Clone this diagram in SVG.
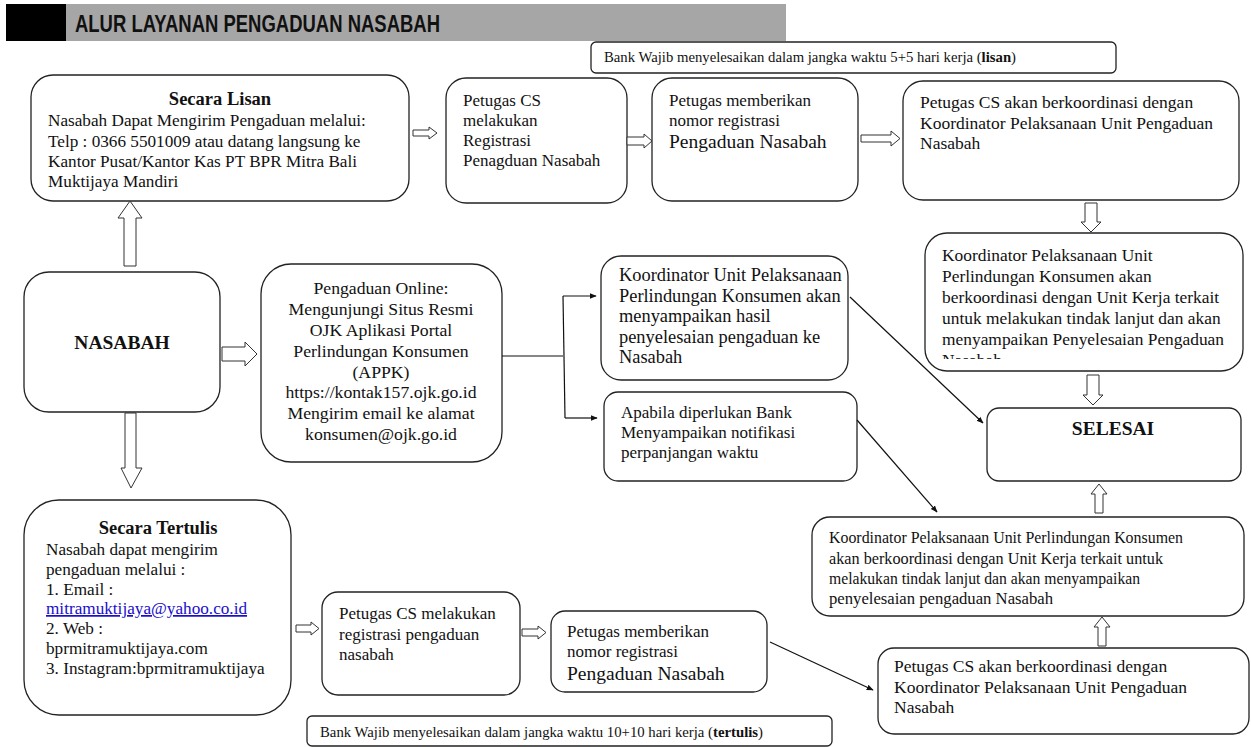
<svg xmlns="http://www.w3.org/2000/svg" width="1251" height="747" viewBox="0 0 1251 747">
<style>
.box{fill:#fff;stroke:#222;stroke-width:1.3}
.t{font-family:"Liberation Serif","Times New Roman",serif;font-size:17px;fill:#111}
.s{font-size:14.5px}
.b{font-weight:bold}
.big{font-size:19.5px}
.ttl{font-size:18.5px}
.c{text-anchor:middle}
.blk{fill:#fff;stroke:#333;stroke-width:1}
.ln{fill:none;stroke:#111;stroke-width:1.2}
</style>
<defs>
<marker id="ah" viewBox="0 0 10 10" refX="9" refY="5" markerWidth="7" markerHeight="7" orient="auto" markerUnits="userSpaceOnUse">
<path d="M0,1 L10,5 L0,9 z" fill="#111"/>
</marker>
<clipPath id="clipK"><rect x="925" y="233" width="320" height="126"/></clipPath>
</defs>
<rect width="1251" height="747" fill="#fff"/>
<g id="header">
<rect x="6" y="4" width="60" height="37" fill="#000"/>
<rect x="66" y="4" width="720" height="37" fill="#a6a6a6"/>
<text x="75" y="32" font-family="'Liberation Sans',Arial,sans-serif" font-weight="bold" font-size="23" textLength="365" lengthAdjust="spacingAndGlyphs" fill="#111">ALUR LAYANAN PENGADUAN NASABAH</text>
</g>
<g id="note-lisan">
<rect class="box" x="591" y="42" width="525" height="31" rx="5"/>
<text class="t s" x="604" y="62" textLength="412" lengthAdjust="spacingAndGlyphs">Bank Wajib menyelesaikan dalam jangka waktu 5+5 hari kerja (<tspan class="b">lisan</tspan>)</text>
</g>
<g id="lisan" style="font-size:17.2px">
<rect class="box" x="31" y="75" width="378" height="126" rx="22"/>
<text class="t b c ttl" x="220" y="105">Secara Lisan</text>
<text class="t" x="48" y="126" style="font-size:17.2px">Nasabah Dapat Mengirim Pengaduan melalui:</text>
<text class="t" x="48" y="147" style="font-size:17.2px">Telp : 0366 5501009 atau datang langsung ke</text>
<text class="t" x="48" y="167" style="font-size:17.2px">Kantor Pusat/Kantor Kas PT BPR Mitra Bali</text>
<text class="t" x="48" y="187" style="font-size:17.2px">Muktijaya Mandiri</text>
</g>
<g id="cs-registrasi">
<rect class="box" x="446" y="78" width="181" height="125" rx="20"/>
<text class="t" x="463" y="106">Petugas CS</text>
<text class="t" x="463" y="126">melakukan</text>
<text class="t" x="463" y="146">Registrasi</text>
<text class="t" x="463" y="166">Penagduan Nasabah</text>
</g>
<g id="nomor-registrasi">
<rect class="box" x="652" y="78" width="206" height="123" rx="20"/>
<text class="t" x="669" y="106">Petugas memberikan</text>
<text class="t" x="669" y="126">nomor registrasi</text>
<text class="t big" x="669" y="148">Pengaduan Nasabah</text>
</g>
<g id="cs-koordinasi">
<rect class="box" x="903" y="81" width="336" height="119" rx="20"/>
<text class="t" x="920" y="108" style="font-size:17.5px">Petugas CS akan berkoordinasi dengan</text>
<text class="t" x="920" y="129" style="font-size:17.5px">Koordinator Pelaksanaan Unit Pengaduan</text>
<text class="t" x="920" y="149" style="font-size:17.5px">Nasabah</text>
</g>
<g id="koordinator-lisan">
<rect class="box" x="925" y="233" width="318" height="138" rx="22"/>
<g clip-path="url(#clipK)">
<text class="t" x="942" y="261" style="font-size:17.4px">Koordinator Pelaksanaan Unit</text>
<text class="t" x="942" y="282" style="font-size:17.4px">Perlindungan Konsumen akan</text>
<text class="t" x="942" y="303" style="font-size:17.4px">berkoordinasi dengan Unit Kerja terkait</text>
<text class="t" x="942" y="324" style="font-size:17.4px">untuk melakukan tindak lanjut dan akan</text>
<text class="t" x="942" y="345" style="font-size:17.4px">menyampaikan Penyelesaian Pengaduan</text>
<text class="t" x="942" y="366" style="font-size:17.4px">Nasabah</text>
</g>
</g>
<g id="selesai">
<rect class="box" x="987" y="408" width="254" height="73" rx="12"/>
<text class="t b c big" x="1113" y="435">SELESAI</text>
</g>
<g id="nasabah">
<rect class="box" x="24" y="272" width="196" height="140" rx="25"/>
<text class="t b c big" x="122" y="349">NASABAH</text>
</g>
<g id="online">
<rect class="box" x="261" y="264" width="241" height="198" rx="30"/>
<text class="t c" x="381" y="294" style="font-size:17.7px">Pengaduan Online:</text>
<text class="t c" x="381" y="315" style="font-size:17.7px">Mengunjungi Situs Resmi</text>
<text class="t c" x="381" y="336" style="font-size:17.7px">OJK Aplikasi Portal</text>
<text class="t c" x="381" y="357" style="font-size:17.7px">Perlindungan Konsumen</text>
<text class="t c" x="381" y="378" style="font-size:17.7px">(APPK)</text>
<text class="t c" x="381" y="398" style="font-size:17.7px">https://kontak157.ojk.go.id</text>
<text class="t c" x="381" y="419" style="font-size:17.7px">Mengirim email ke alamat</text>
<text class="t c" x="381" y="440" style="font-size:17.7px">konsumen@ojk.go.id</text>
</g>
<g id="koordinator-hasil">
<rect class="box" x="601" y="256" width="247" height="124" rx="20"/>
<text class="t" x="619" y="281" style="font-size:18.4px">Koordinator Unit Pelaksanaan</text>
<text class="t" x="619" y="302" style="font-size:18.4px">Perlindungan Konsumen akan</text>
<text class="t" x="619" y="322" style="font-size:18.4px">menyampaikan hasil</text>
<text class="t" x="619" y="343" style="font-size:18.4px">penyelesaian pengaduan ke</text>
<text class="t" x="619" y="363" style="font-size:18.4px">Nasabah</text>
</g>
<g id="notifikasi">
<rect class="box" x="604" y="392" width="253" height="89" rx="14"/>
<text class="t" x="621" y="418">Apabila diperlukan Bank</text>
<text class="t" x="621" y="438">Menyampaikan notifikasi</text>
<text class="t" x="621" y="458">perpanjangan waktu</text>
</g>
<g id="koordinator-tertulis">
<rect class="box" x="812" y="517" width="432" height="99" rx="18"/>
<text class="t" x="829" y="543" textLength="354" lengthAdjust="spacingAndGlyphs">Koordinator Pelaksanaan Unit Perlindungan Konsumen</text>
<text class="t" x="829" y="564" textLength="334" lengthAdjust="spacingAndGlyphs">akan berkoordinasi dengan Unit Kerja terkait untuk</text>
<text class="t" x="829" y="584" textLength="311" lengthAdjust="spacingAndGlyphs">melakukan tindak lanjut dan akan menyampaikan</text>
<text class="t" x="829" y="604" textLength="224" lengthAdjust="spacingAndGlyphs">penyelesaian pengaduan Nasabah</text>
</g>
<g id="cs-koordinasi-tertulis">
<rect class="box" x="878" y="648" width="371" height="86" rx="16"/>
<text class="t" x="894" y="672" style="font-size:17.5px">Petugas CS akan berkoordinasi dengan</text>
<text class="t" x="894" y="693" style="font-size:17.5px">Koordinator Pelaksanaan Unit Pengaduan</text>
<text class="t" x="894" y="713" style="font-size:17.5px">Nasabah</text>
</g>
<g id="tertulis">
<rect class="box" x="24" y="500" width="267" height="215" rx="35"/>
<text class="t b c ttl" x="158" y="534">Secara Tertulis</text>
<text class="t" x="46" y="555" style="font-size:17.2px">Nasabah dapat mengirim</text>
<text class="t" x="46" y="575" style="font-size:17.2px">pengaduan melalui :</text>
<text class="t" x="46" y="595" style="font-size:17.2px">1. Email :</text>
<text class="t" x="46" y="614" text-decoration="underline" style="font-size:17.2px;fill:#1a0dcc">mitramuktijaya@yahoo.co.id</text>
<text class="t" x="46" y="634" style="font-size:17.2px">2. Web :</text>
<text class="t" x="46" y="654" style="font-size:17.2px">bprmitramuktijaya.com</text>
<text class="t" x="46" y="674" style="font-size:17.2px">3. Instagram:bprmitramuktijaya</text>
</g>
<g id="cs-registrasi-tertulis">
<rect class="box" x="322" y="592" width="198" height="103" rx="16"/>
<text class="t" x="339" y="619">Petugas CS melakukan</text>
<text class="t" x="339" y="640">registrasi pengaduan</text>
<text class="t" x="339" y="660">nasabah</text>
</g>
<g id="nomor-registrasi-tertulis">
<rect class="box" x="551" y="611" width="216" height="81" rx="14"/>
<text class="t" x="567" y="637">Petugas memberikan</text>
<text class="t" x="567" y="657">nomor registrasi</text>
<text class="t big" x="567" y="680">Pengaduan Nasabah</text>
</g>
<g id="note-tertulis">
<rect class="box" x="307" y="716" width="525" height="30" rx="5"/>
<text class="t s" x="320" y="737" textLength="443" lengthAdjust="spacingAndGlyphs">Bank Wajib menyelesaikan dalam jangka waktu 10+10 hari kerja (<tspan class="b">tertulis</tspan>)</text>
</g>
<g id="connectors">
<path class="blk" d="M124,266 V218 H118 L130,201 L142,218 H136 V266 Z"/>
<path class="blk" d="M125,413 V468 H121 L131,488 L142,468 H136 V413 Z"/>
<path class="blk" d="M222,347 H245 V342 L257,354 L245,366 V361 H222 Z"/>
<path class="blk" d="M413,130 H429 V127 L437,133 L429,139 V136 H413 Z"/>
<path class="blk" d="M627,137 H644 V134 L652,141 L644,148 V145 H627 Z"/>
<path class="blk" d="M861,135 H891 V131 L900,138.5 L891,146 V142 H861 Z"/>
<path class="blk" d="M1085,203 V222 H1081 L1091,232 L1101,222 H1097 V203 Z"/>
<path class="blk" d="M1087,375 V395 H1083 L1093,405 L1103,395 H1099 V375 Z"/>
<path class="blk" d="M1095,513 V494 H1091 L1099,484 L1107,494 H1103 V513 Z"/>
<path class="blk" d="M1098,646 V627 H1094 L1102,617 L1110,627 H1106 V646 Z"/>
<path class="blk" d="M296,625 H311 V622 L319,628.5 L311,635 V632 H296 Z"/>
<path class="blk" d="M522,629 H538 V626 L546,632.5 L538,639 V636 H522 Z"/>
<path class="ln" d="M502,356 H563"/>
<path class="ln" d="M563,296 L565,418"/>
<path class="ln" d="M563,296 H596" marker-end="url(#ah)"/>
<path class="ln" d="M565,418 H597" marker-end="url(#ah)"/>
<path class="ln" d="M850,297 L983,423" marker-end="url(#ah)"/>
<path class="ln" d="M857,420 L937,512" marker-end="url(#ah)"/>
<path class="ln" d="M770,642 L873,690" marker-end="url(#ah)"/>
</g>
</svg>
